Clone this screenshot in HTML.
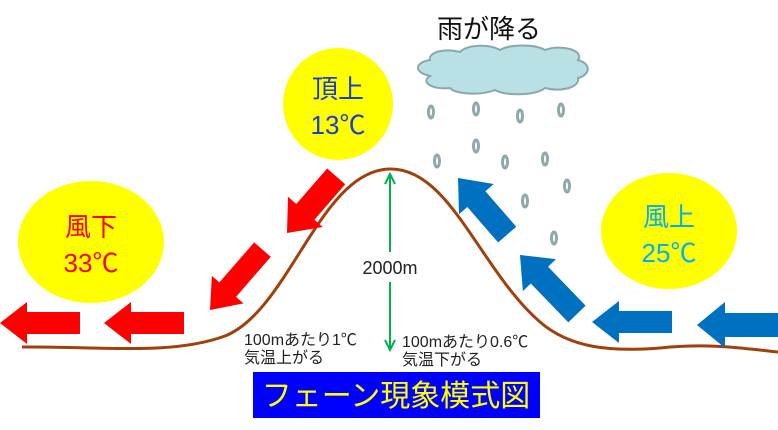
<!DOCTYPE html>
<html><head><meta charset="utf-8"><style>
html,body{margin:0;padding:0;background:#fff;}
svg{display:block;font-family:"Liberation Sans","Noto Sans CJK JP",sans-serif;}
</style></head><body>
<svg width="778" height="430" viewBox="0 0 778 430" xmlns="http://www.w3.org/2000/svg">
<defs>
<polygon id="a80" points="0,0 27,-21 27,-11 80,-11 80,11 27,11 27,21"/>
<polygon id="a75" points="0,0 28,-23 28,-12 75,-12 75,12 28,12 28,23"/>
<polygon id="a82" points="0,0 28,-23 28,-12 82,-12 82,12 28,12 28,23"/>
</defs>
<ellipse cx="338" cy="104" rx="55" ry="56" fill="#ffff00"/>
<ellipse cx="91" cy="242" rx="73" ry="61" fill="#ffff00"/>
<ellipse cx="669" cy="231" rx="68" ry="58" fill="#ffff00"/>
<text x="338" y="98" font-size="26" fill="#1c3fd0" text-anchor="middle">頂上</text>
<text x="338" y="134" font-size="26" fill="#1c3fd0" text-anchor="middle">13℃</text>
<text x="91" y="236" font-size="26" fill="#ff0000" text-anchor="middle">風下</text>
<text x="91" y="272" font-size="26" fill="#ff0000" text-anchor="middle">33℃</text>
<text x="669" y="226" font-size="26" fill="#00b0f0" text-anchor="middle">風上</text>
<text x="669" y="262" font-size="26" fill="#00b0f0" text-anchor="middle">25℃</text>
<text x="489" y="38" font-size="26" fill="#111" text-anchor="middle">雨が降る</text>
<path d="M430,60 C428,52 445,48 460,52 C468,44 490,44 500,50 C510,44 535,44 545,50 C560,44 585,50 578,60 C592,64 590,75 578,78 C580,88 560,92 545,88 C535,96 505,96 495,90 C480,96 455,94 450,88 C432,90 420,82 430,76 C412,72 416,62 430,60 Z" fill="#b9e0e4" stroke="#8aa8ab" stroke-width="2"/>
<g fill="none" stroke="#8fa9ac" stroke-width="3">
<ellipse cx="431" cy="112" rx="2.5" ry="6"/>
<ellipse cx="476" cy="109" rx="2.5" ry="6"/>
<ellipse cx="520" cy="116" rx="2.5" ry="6"/>
<ellipse cx="561" cy="110" rx="2.5" ry="6"/>
<ellipse cx="476" cy="146" rx="2.5" ry="6"/>
<ellipse cx="437" cy="161" rx="2.5" ry="6"/>
<ellipse cx="505" cy="162" rx="2.5" ry="6"/>
<ellipse cx="545" cy="159" rx="2.5" ry="6"/>
<ellipse cx="567" cy="186" rx="2.5" ry="6"/>
<ellipse cx="525" cy="201" rx="2.5" ry="6"/>
<ellipse cx="554" cy="238" rx="2.5" ry="6"/>
</g>
<path d="M22,347 C100,346 170,356 225,336 C290,310 320,170 390,169 C450,168 480,270 540,322 C570,348 610,352 660,348 C710,343 740,348 778,352" fill="none" stroke="#a0400c" stroke-width="3"/>
<g fill="#ff0000">
<use href="#a80" transform="translate(0,323)"/>
<use href="#a80" transform="translate(104,323)"/>
<use href="#a75" transform="translate(287,233) rotate(-49)"/>
<use href="#a80" transform="translate(210,310) rotate(-49)"/>
</g>
<g fill="#0070c0">
<use href="#a80" transform="translate(592,322)"/>
<use href="#a82" transform="translate(697,325)"/>
<use href="#a75" transform="translate(458,178) rotate(49)"/>
<use href="#a82" transform="translate(520,255) rotate(46)"/>
</g>
<g stroke="#00b050" stroke-width="2" fill="none">
<line x1="390" y1="174" x2="390" y2="252"/>
<line x1="390" y1="282" x2="390" y2="350"/>
<polyline points="385,184 390,174 395,184"/>
<polyline points="385,340 390,350 395,340"/>
</g>
<text x="390" y="274" font-size="18" fill="#222" text-anchor="middle">2000m</text>
<text x="244" y="345" font-size="16" fill="#222">100mあたり1℃</text>
<text x="244" y="363" font-size="16" fill="#222">気温上がる</text>
<text x="402" y="347" font-size="16" fill="#222">100mあたり0.6℃</text>
<text x="402" y="365" font-size="16" fill="#222">気温下がる</text>
<rect x="253" y="372" width="287" height="46" fill="#0000ff"/>
<text x="396" y="406" font-size="30" fill="#ffff00" text-anchor="middle">フェーン現象模式図</text>
</svg>
</body></html>
